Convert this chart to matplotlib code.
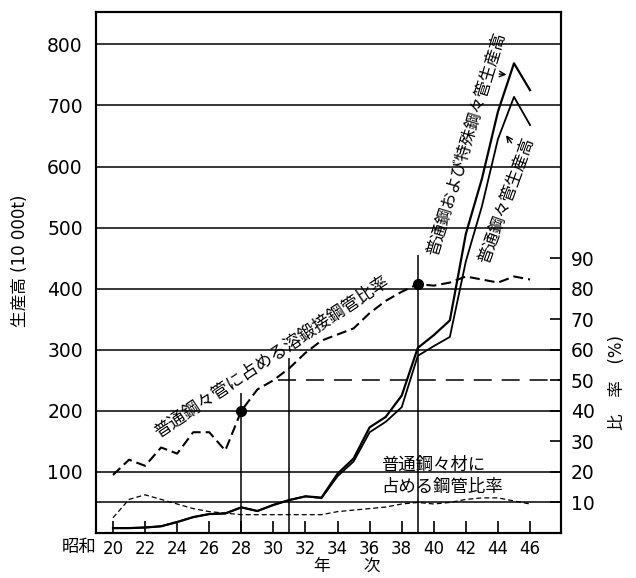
import matplotlib
matplotlib.use("Agg")
import matplotlib.pyplot as plt

plt.rcParams['font.family'] = ['DejaVu Sans', 'Noto Sans CJK JP']

# 昭和 years
years = list(range(20, 47))
# production, 10 000 t
total_prod = [8, 8, 9, 11, 18, 26, 31, 32, 42, 36,
              46, 54, 60, 58, 97, 122, 173, 190, 225, 303,
              324, 348, 490, 580, 690, 769, 725]
ordinary_prod = [8, 8, 9, 11, 18, 26, 31, 32, 42, 36,
                 46, 54, 60, 57, 93, 117, 165, 182, 206, 290,
                 306, 321, 445, 535, 645, 714, 668]
# ratios, %
welded_ratio = [19, 24, 22, 28, 26, 33, 33, 27, 40, 47,
                50, 54, 59, 63, 65, 67, 72, 76, 79, 81.5,
                81, 82, 84, 83, 82, 84, 83]
pipe_ratio = [5, 11, 12.5, 11, 9.5, 8, 7, 6.5, 6, 6,
              6, 6, 6, 6, 7, 7.5, 8, 8.5, 9.5, 10,
              9.5, 10, 11, 11.5, 11.5, 10.5, 9.5]

left_ticks = list(range(100, 900, 100))
right_ticks = list(range(10, 100, 10))
x_ticks = list(range(20, 48, 2))
marked_years = [28, 39]

fig = plt.figure(figsize=(6.36, 5.78), dpi=100)
ax = fig.add_axes([96 / 636, 45 / 578, 465 / 636, 521 / 578])
ax.set_xlim(18.94, 47.93)
ax.set_ylim(0, 853)
ax2 = ax.twinx()
ax2.set_ylim(0, 853 / 5)

for v in left_ticks:
    ax.axhline(v, color='k', lw=1.1, zorder=1)
ax2.axhline(10, color='k', lw=1.1, zorder=1)
ax2.hlines(50, 30.3, 47.93, colors='k', lw=1.1, linestyles=(0, (11.8, 6.5)))

ax.vlines([28, 31, 39], 0, [229, 286, 455], colors='k', lw=1.1)

ax.plot(years, total_prod, color='k', lw=1.6)
ax.plot(years, ordinary_prod, color='k', lw=1.3)
ax2.plot(years, welded_ratio, color='k', lw=1.5, linestyle=(0, (4.8, 2.4)))
ax2.plot(years, pipe_ratio, color='k', lw=0.9, linestyle=(0, (4, 2.4)))
ax2.plot(marked_years, [welded_ratio[years.index(y)] for y in marked_years],
         'o', color='k', ms=7)

for a in (ax, ax2):
    for s in a.spines.values():
        s.set_linewidth(1.5)

ax.set_xticks(x_ticks)
ax.tick_params(axis='x', direction='in', length=9, width=1.2, labelsize=12, pad=5)
ax.set_yticks(left_ticks)
ax.tick_params(axis='y', length=0, labelsize=13.5, pad=9.5)
ax2.set_yticks(right_ticks)
ax2.tick_params(axis='y', direction='in', length=8, width=1.2, labelsize=13.5, pad=7)

ax.text(29.9, 288, '普通鋼々管に占める溶鍛接鋼管比率', rotation=33.6,
        rotation_mode='anchor', ha='center', va='center', fontsize=12.5)
ax.text(42.0, 637, '普通鋼および特殊鋼々管生産高', rotation=73,
        rotation_mode='anchor', ha='center', va='center', fontsize=12)
ax.text(44.5, 545, '普通鋼々管生産高', rotation=70,
        rotation_mode='anchor', ha='center', va='center', fontsize=12)
ax.text(36.7, 93, '普通鋼々材に\n占める鋼管比率', ha='left', va='center',
        fontsize=12.5, linespacing=1.3)

ax.annotate('', xy=(44.7, 750), xytext=(43.9, 752),
            arrowprops=dict(arrowstyle='->', color='k', lw=1))
ax.annotate('', xy=(44.4, 655), xytext=(44.95, 635),
            arrowprops=dict(arrowstyle='->', color='k', lw=1))

fig.text(79 / 636, 1 - 547 / 578, '昭和', ha='center', va='center', fontsize=12.5)
fig.text(20 / 636, 1 - 261 / 578, '生産高 (10 000t)', rotation=90,
         ha='center', va='center', fontsize=12)
fig.text(617 / 636, 1 - 383 / 578, '比　率　(%)', rotation=90,
         ha='center', va='center', fontsize=12)
fig.text(347 / 636, 1 - 566 / 578, '年　　次', ha='center', va='center', fontsize=12)

fig.savefig('out.png', dpi=100)
